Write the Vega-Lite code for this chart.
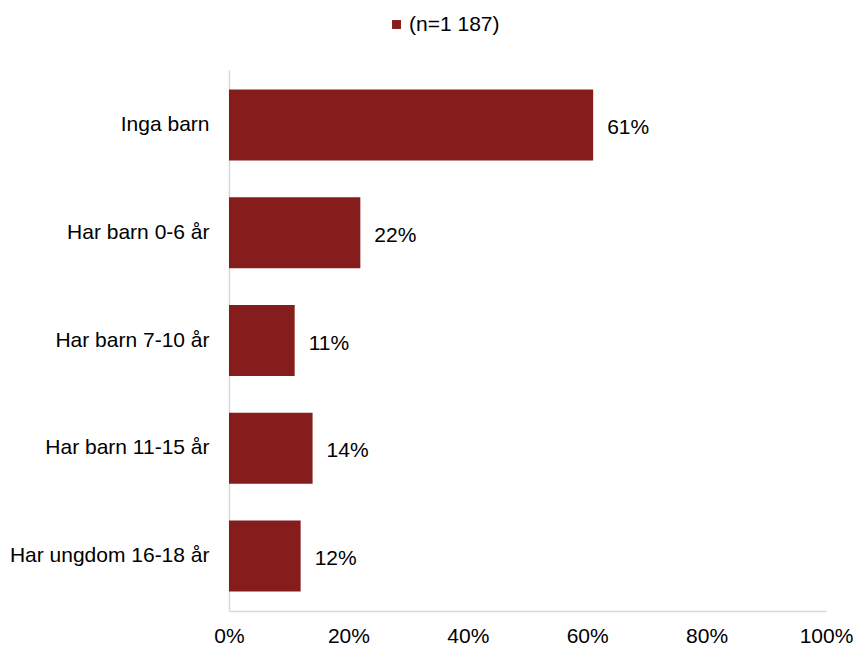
{
  "$schema": "https://vega.github.io/schema/vega-lite/v6.json",
  "width": 597,
  "height": 541,
  "autosize": {"type": "none"},
  "padding": {"left": 229, "top": 70, "right": 31, "bottom": 35},
  "background": "white",
  "config": {
    "view": {"stroke": null},
    "font": "Liberation Sans"
  },
  "data": {
    "values": [
      {"kategori": "Inga barn", "andel": 0.61, "serie": "(n=1 187)"},
      {"kategori": "Har barn 0-6 år", "andel": 0.22, "serie": "(n=1 187)"},
      {"kategori": "Har barn 7-10 år", "andel": 0.11, "serie": "(n=1 187)"},
      {"kategori": "Har barn 11-15 år", "andel": 0.14, "serie": "(n=1 187)"},
      {"kategori": "Har ungdom 16-18 år", "andel": 0.12, "serie": "(n=1 187)"}
    ]
  },
  "encoding": {
    "y": {
      "field": "kategori",
      "type": "nominal",
      "sort": null,
      "scale": {"paddingInner": 0.34, "paddingOuter": 0.18},
      "axis": {
        "title": null,
        "ticks": false,
        "domainColor": "#d9d9d9",
        "domainWidth": 1.5,
        "labelFontSize": 21,
        "labelColor": "#000000",
        "labelPadding": 20,
        "labelLimit": 400,
        "labelFont": "Liberation Sans"
      }
    },
    "x": {
      "field": "andel",
      "type": "quantitative",
      "scale": {"domain": [0, 1]},
      "axis": {
        "title": null,
        "format": ".0%",
        "values": [0, 0.2, 0.4, 0.6, 0.8, 1],
        "ticks": false,
        "grid": false,
        "labelFlush": false,
        "domainColor": "#d9d9d9",
        "domainWidth": 1.5,
        "labelFontSize": 21,
        "labelColor": "#000000",
        "labelPadding": 14,
        "labelFont": "Liberation Sans"
      }
    }
  },
  "layer": [
    {
      "mark": {"type": "bar", "color": "#861d1d"},
      "encoding": {
        "color": {
          "field": "serie",
          "type": "nominal",
          "scale": {"range": ["#861d1d"]},
          "legend": {
            "title": null,
            "orient": "none",
            "legendX": 157,
            "legendY": -56,
            "symbolType": "square",
            "symbolSize": 80,
            "symbolStrokeWidth": 0,
            "labelFontSize": 21,
            "labelColor": "#000000",
            "labelFont": "Liberation Sans",
            "labelOffset": 2
          }
        }
      }
    },
    {
      "mark": {"type": "text", "align": "left", "dx": 14, "dy": 3, "fontSize": 21, "color": "#000000", "font": "Liberation Sans"},
      "encoding": {
        "text": {"field": "andel", "type": "quantitative", "format": ".0%"}
      }
    }
  ]
}
